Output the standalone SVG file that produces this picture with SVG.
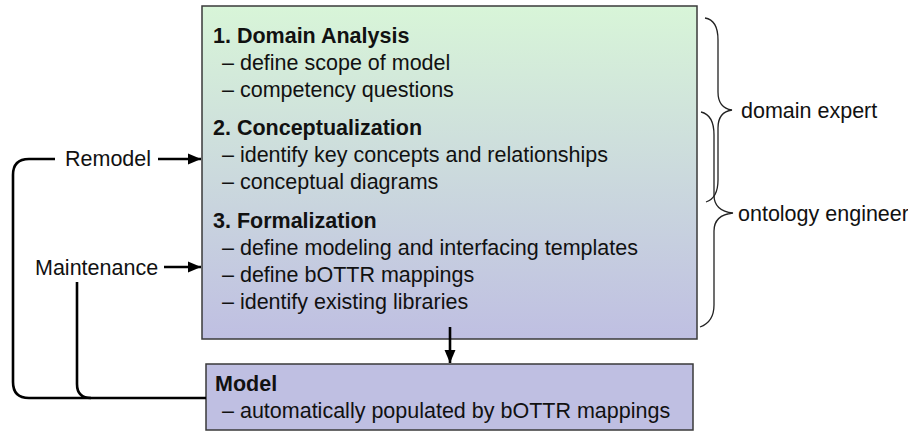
<svg xmlns="http://www.w3.org/2000/svg" width="908" height="432" viewBox="0 0 908 432">
<defs>
<linearGradient id="g" x1="0" y1="0" x2="0" y2="1">
<stop offset="0" stop-color="#d8f5d8"/>
<stop offset="1" stop-color="#bfbfe2"/>
</linearGradient>
<marker id="ah" viewBox="0 0 10 10" refX="10" refY="5" markerWidth="5.4" markerHeight="5" orient="auto" markerUnits="strokeWidth">
<path d="M0,0.8 L10,5 L0,9.2 z" fill="#000"/>
</marker>
<style>
text{font-family:"Liberation Sans",Arial,sans-serif;font-size:21.5px;fill:#111}
.b{font-weight:bold}
.box{stroke:#3a3a3a;stroke-width:1.5}
.ln{fill:none;stroke:#000;stroke-width:2.6}
.br{fill:none;stroke:#222;stroke-width:1.3}
</style>
</defs>
<g id="process">
<rect class="box" x="202" y="6" width="495" height="333" fill="url(#g)"/>
<text class="b" x="213" y="43">1. Domain Analysis</text>
<text x="222" y="70">– define scope of model</text>
<text x="222" y="97">– competency questions</text>
<text class="b" x="213" y="135">2. Conceptualization</text>
<text x="222" y="162">– identify key concepts and relationships</text>
<text x="222" y="189">– conceptual diagrams</text>
<text class="b" x="213" y="228">3. Formalization</text>
<text x="222" y="255">– define modeling and interfacing templates</text>
<text x="222" y="282">– define bOTTR mappings</text>
<text x="222" y="309">– identify existing libraries</text>
</g>
<g id="model">
<rect class="box" x="206" y="364" width="487" height="66" fill="#bfbfe2"/>
<text class="b" x="215" y="391">Model</text>
<text x="222" y="418">– automatically populated by bOTTR mappings</text>
</g>
<g id="labels">
<text x="65" y="166">Remodel</text>
<text x="35" y="275">Maintenance</text>
</g>
<g id="roles">
<path class="br" d="M705,18 Q718,20 718,40 L718,92 Q718,108 732,110 Q718,112 718,128 L718,180 Q718,198 706,202"/>
<path class="br" d="M701,112 Q714,115 714,135 L714,195 Q714,211 733,213 Q714,215 714,231 L714,305 Q714,322 700,327"/>
<text x="741" y="118">domain expert</text>
<text x="738" y="221">ontology engineer</text>
</g>
<g id="connectors">
<path class="ln" d="M158,159 L201,159" marker-end="url(#ah)"/>
<path class="ln" d="M164,267 L201,267" marker-end="url(#ah)"/>
<path class="ln" d="M450,327 L450,363" marker-end="url(#ah)"/>
<path class="ln" d="M55,159 L29,159 Q13,159 13,175 L13,382 Q13,398 29,398 L206,398"/>
<path class="ln" d="M77,282 L77,384 Q77,398 91,398"/>
</g>
</svg>
